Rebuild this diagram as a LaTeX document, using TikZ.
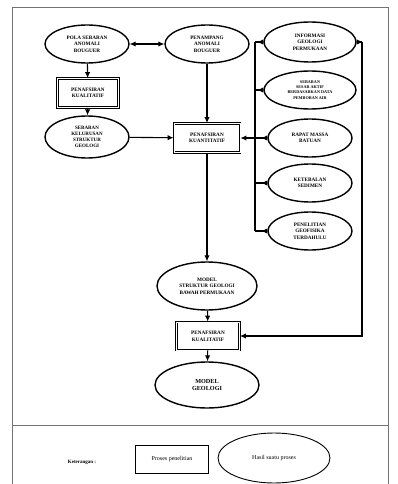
\documentclass[tikz,border=0pt]{standalone}
\usepackage{fontspec}
\setmainfont{Liberation Serif}
\usetikzlibrary{shapes.geometric,arrows.meta}

\tikzset{
  hasil/.style={ellipse, draw, line width=1.4pt, inner sep=0pt, align=center,
    font=\fontsize{5.2}{6.6}\selectfont\bfseries},
  proses/.style={rectangle, draw, line width=0.9pt, double, double distance=0.6pt,
    inner sep=0pt, align=center, font=\fontsize{5.2}{6.6}\selectfont\bfseries},
  panah/.style={-{Latex[length=6pt,width=5.5pt]}, line width=1.1pt},
  asal/.style={{Latex[reversed,length=6pt,width=5.5pt]}-, line width=1.1pt},
  bingkai/.style={draw=black!55, line width=0.8pt}
}

\begin{document}
\begin{tikzpicture}[x=1pt,y=-1pt]
\useasboundingbox (0,0) rectangle (397,484);

% bingkai
\draw[bingkai] (12,7) rectangle (388,425);
\draw[bingkai] (12,425) -- (12,484);
\draw[bingkai] (388,425) -- (388,484);

% kolom kiri dan tengah
\node[hasil, minimum width=84pt, minimum height=38pt] (pola) at (87,44) {POLA SEBARAN\\ANOMALI\\BOUGUER};
\node[hasil, minimum width=84pt, minimum height=38pt] (penampang) at (207,44) {PENAMPANG\\ANOMALI\\BOUGUER};
\node[proses, minimum width=61pt, minimum height=29pt] (kual1) at (88,93) {PENAFSIRAN\\KUALITATIF};
\node[hasil, minimum width=84pt, minimum height=42pt, font=\fontsize{5}{6}\selectfont\bfseries] (kelurusan) at (87,137) {SEBARAN\\KELURUSAN\\STRUKTUR\\GEOLOGI};
\node[proses, minimum width=66pt, minimum height=29pt] (kuan) at (207,138) {PENAFSIRAN\\KUANTITATIF};
\node[hasil, minimum width=100pt, minimum height=48pt] (struktur) at (207,286) {MODEL\\STRUKTUR GEOLOGI\\BAWAH PERMUKAAN};
\node[proses, minimum width=63pt, minimum height=28pt] (kual2) at (208,336) {PENAFSIRAN\\KUALITATIF};
\node[hasil, minimum width=104pt, minimum height=46pt, font=\fontsize{6.2}{7.6}\selectfont\bfseries] (geologi) at (207,385) {MODEL\\GEOLOGI};

% kolom kanan
\node[hasil, minimum width=92pt, minimum height=40pt] (info) at (310,42) {INFORMASI\\GEOLOGI\\PERMUKAAN};
\node[hasil, minimum width=92pt, minimum height=38pt, font=\fontsize{4.2}{5.2}\selectfont\bfseries] (sesar) at (310,90) {SEBARAN\\SESAR AKTIF\\BERDASARKAN DATA\\PEMBORAN AIR};
\node[hasil, minimum width=84pt, minimum height=38pt] (rapat) at (310,138) {RAPAT MASSA\\BATUAN};
\node[hasil, minimum width=84pt, minimum height=38pt] (tebal) at (310,183) {KETEBALAN\\SEDIMEN};
\node[hasil, minimum width=84pt, minimum height=38pt] (dahulu) at (310,231) {PENELITIAN\\GEOFISIKA\\TERDAHULU};

\coordinate (bus) at (255,42);
\coordinate (kanan) at (362,42);

% penghubung
\draw[{Latex[length=6pt,width=5.5pt]}-{Latex[length=6pt,width=5.5pt]}, line width=1.1pt] (pola) -- (penampang);
\draw[panah] (pola) -- (kual1);
\draw[panah] (kual1) -- (kelurusan);
\draw[panah] (kelurusan) -- (kuan);
\draw[panah] (penampang) -- (kuan);
\draw[panah] (kuan) -- (struktur);
\draw[panah] (struktur) -- (kual2);
\draw[panah] (kual2) -- (geologi);

\draw[line width=1.1pt] (bus) -- (bus |- dahulu.west);
\foreach \n in {info,sesar,rapat,tebal,dahulu}
  \draw[asal] (\n.west) -- (\n.west -| bus);
\draw[panah] (kuan.east -| bus) -- (kuan.east);
\draw[asal] (info.east) -- (kanan);
\draw[panah] (kanan) |- (kual2.east);

% keterangan
\node[font=\fontsize{5}{6}\selectfont\bfseries] (ket) at (82,462) {Keterangan :};
\node[draw, line width=0.9pt, minimum width=73pt, minimum height=28pt, font=\fontsize{6}{7}\selectfont] (contohproses) at (172,459) {Proses penelitian};
\node[ellipse, draw, line width=0.9pt, minimum width=112pt, minimum height=50pt, font=\fontsize{6}{7}\selectfont] (contohhasil) at (274,458) {Hasil suatu proses};
\end{tikzpicture}
\end{document}
